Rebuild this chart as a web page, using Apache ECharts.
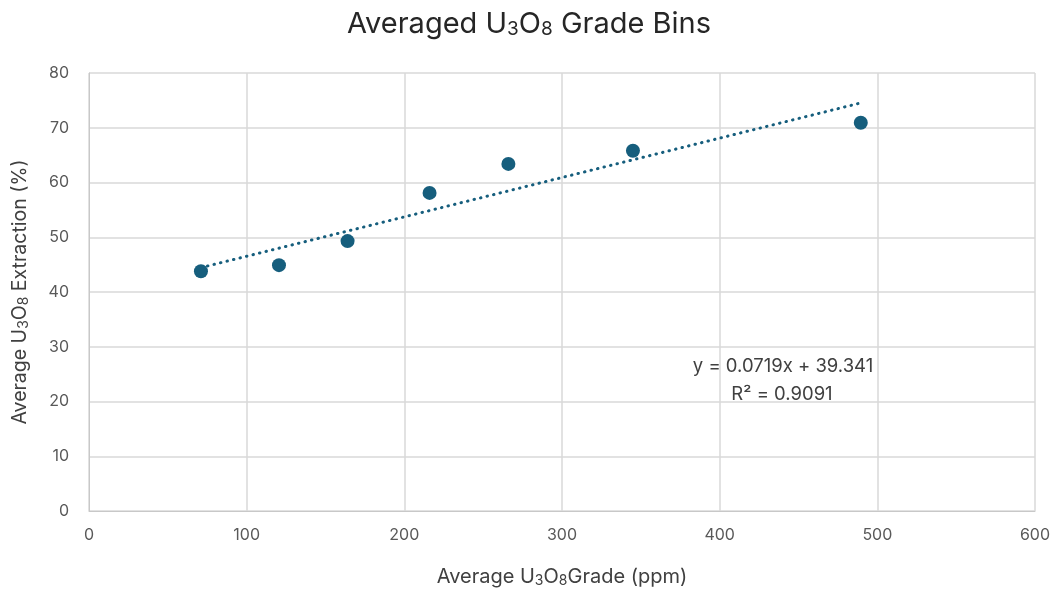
<!DOCTYPE html>
<html>
<head>
<meta charset="utf-8">
<script src="https://cdn.jsdelivr.net/npm/echarts@6/dist/echarts.min.js"></script>
<style>
  html, body { margin: 0; padding: 0; background: #fff; }
  #chart { width: 1058px; height: 590px; }
</style>
</head>
<body>
<div id="chart"></div>
<script>
// averaged grade bins (ppm) and extraction (%)
const grade = [71, 120.5, 164, 216, 266, 345, 489.5]
const extraction = [43.8, 44.9, 49.3, 58.1, 63.4, 65.8, 70.9]

// linear trendline coefficients as reported
const slope = 0.0719
const intercept = 39.341
const rSquared = '0.9091'

const xTicks = [0, 100, 200, 300, 400, 500, 600]
const yTicks = [0, 10, 20, 30, 40, 50, 60, 70, 80]

const fontFamily = 'Inter, "Noto Sans", sans-serif'
const dotColor = '#165e7d'

const xMin = Math.min(...grade)
const xMax = Math.max(...grade)
const trend = [
  [xMin, slope * xMin + intercept],
  [xMax, slope * xMax + intercept]
]

const subStyle = (size, color) => ({
  fontFamily,
  fontSize: size,
  color,
  verticalAlign: 'bottom',
  padding: [Math.round(size * 0.55), 0, 0, 0]
})

const chart = echarts.init(document.getElementById('chart'))

chart.setOption({
  animation: false,
  textStyle: { fontFamily },
  title: {
    text: 'Averaged U{s|3}O{s|8} Grade Bins',
    left: 'center',
    top: 5,
    textStyle: {
      fontFamily,
      fontSize: 29,
      fontWeight: 'normal',
      color: '#262626',
      rich: { s: subStyle(19, '#262626') }
    }
  },
  grid: {
    left: 89,
    right: 23,
    top: 73,
    bottom: 79,
    outerBoundsMode: 'none'
  },
  xAxis: {
    type: 'value',
    min: xTicks[0],
    max: xTicks[xTicks.length - 1],
    interval: 100,
    name: 'Average U{s|3}O{s|8}Grade (ppm)',
    nameLocation: 'middle',
    nameGap: 55,
    nameTextStyle: {
      fontSize: 20,
      color: '#404040',
      rich: { s: subStyle(14, '#404040') }
    },
    axisLine: { lineStyle: { color: '#c8c8c8', width: 1 } },
    axisTick: { show: false },
    axisLabel: { fontSize: 16, color: '#595959', margin: 16 },
    splitLine: { lineStyle: { color: '#d9d9d9', width: 1.5 } }
  },
  yAxis: {
    type: 'value',
    min: yTicks[0],
    max: yTicks[yTicks.length - 1],
    interval: 10,
    name: 'Average U{s|3}O{s|8} Extraction (%)',
    nameLocation: 'middle',
    nameGap: 58,
    nameTextStyle: {
      fontSize: 19.5,
      color: '#404040',
      rich: { s: subStyle(14, '#404040') }
    },
    axisLine: { show: true, lineStyle: { color: '#c8c8c8', width: 1 } },
    axisTick: { show: false },
    axisLabel: { fontSize: 16, color: '#595959', margin: 20 },
    splitLine: { lineStyle: { color: '#d9d9d9', width: 1.5 } }
  },
  series: [
    {
      name: 'Trendline',
      type: 'line',
      data: trend,
      symbol: 'none',
      lineStyle: { color: dotColor, width: 3, type: [0.5, 6.2], cap: 'round' },
      z: 2
    },
    {
      name: 'Extraction',
      type: 'scatter',
      data: grade.map((g, i) => [g, extraction[i]]),
      symbolSize: 14,
      itemStyle: { color: dotColor, opacity: 1 },
      z: 3
    }
  ],
  graphic: [
    {
      type: 'text',
      x: 783,
      y: 366,
      style: {
        text: 'y = ' + slope + 'x + ' + intercept,
        fontFamily,
        fontSize: 18.5,
        fill: '#404040',
        align: 'center',
        verticalAlign: 'middle'
      }
    },
    {
      type: 'text',
      x: 782,
      y: 394,
      style: {
        text: 'R² = ' + rSquared,
        fontFamily,
        fontSize: 18.5,
        fill: '#404040',
        align: 'center',
        verticalAlign: 'middle'
      }
    }
  ]
})
</script>
</body>
</html>
